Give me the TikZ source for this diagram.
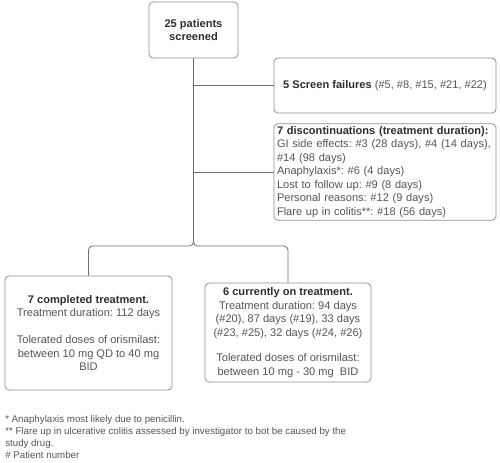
\documentclass[tikz,border=0pt]{standalone}
\usepackage{fontspec}
\setmainfont{Liberation Sans}
\usetikzlibrary{positioning}
\definecolor{boxline}{HTML}{8E8E8E}
\definecolor{linkline}{HTML}{6E6E6E}
\definecolor{bodytext}{HTML}{555555}
\definecolor{headtext}{HTML}{2E2E2E}
\tikzset{box/.style={draw=boxline,rounded corners=3pt,line width=0.6pt,inner sep=2pt,
    text=bodytext,font=\fontsize{8.3}{10.1}\selectfont},
  link/.style={draw=linkline,line width=0.6pt,rounded corners=3pt}}
\newcommand{\hd}[1]{\textbf{\color{headtext}#1}}
\frenchspacing

\begin{document}
\begin{tikzpicture}[x=0.75pt,y=0.75pt,yscale=-1,xscale=1]
\useasboundingbox (0,0) rectangle (500,463);

%Shape: Rectangle [id:screened]
\node[box,minimum width=66.75pt,minimum height=42pt,align=center] (screened) at (193.5,30)
  {\hd{25 patients}\\\hd{screened}};
%Shape: Rectangle [id:fail]
\node[box,minimum width=166.5pt,minimum height=41.25pt,align=center] (fail) at (385,85.5)
  {\hd{5 Screen failures} (\#5, \#8, \#15, \#21, \#22)};
%Shape: Rectangle [id:quit]
\node[box,minimum width=166.5pt,minimum height=72pt,text width=162pt,align=left] (quit) at (385,172)
  {\hd{7 discontinuations (treatment duration):}\\
   GI side effects: \#3 (28 days), \#4 (14 days),\\
   \#14 (98 days)\\
   Anaphylaxis*: \#6 (4 days)\\
   Lost to follow up: \#9 (8 days)\\
   Personal reasons: \#12 (9 days)\\
   Flare up in colitis**: \#18 (56 days)};
%Shape: Rectangle [id:done]
\node[box,minimum width=125.25pt,minimum height=85.5pt,align=center] (done) at (88.5,333)
  {\hd{7 completed treatment.}\\
   Treatment duration: 112 days\\[10pt]
   Tolerated doses of orismilast:\\
   between 10 mg QD to 40 mg\\
   BID};
%Shape: Rectangle [id:ongoing]
\node[box,minimum width=124.5pt,minimum height=74.25pt,align=center] (ongoing) at (288,332.5)
  {\hd{6 currently on treatment.}\\
   Treatment duration: 94 days\\
   (\#20), 87 days (\#19), 33 days\\
   (\#23, \#25), 32 days (\#24, \#26)\\[9pt]
   Tolerated doses of orismilast:\\
   between 10 mg - 30 mg\ \ BID};

% Text Node
\node[anchor=north west,inner sep=0pt,align=left,text=bodytext,font=\fontsize{7.3}{9}\selectfont] (notes) at (5,415)
  {* Anaphylaxis most likely due to penicillin.\\
   ** Flare up in ulcerative colitis assessed by investigator to bot be caused by the\\
   study drug.\\
   \# Patient number};

%Straight Lines
\coordinate (split) at (193.5,246);
\draw[link] (screened.south) -- (split) -| (done.north);
\draw[link] (screened.south) -- (split) -| (ongoing.north);
\draw[link] (screened.south |- fail.west) -- (fail.west);
\draw[link] (screened.south |- quit.west) -- (quit.west);

\end{tikzpicture}
\end{document}
